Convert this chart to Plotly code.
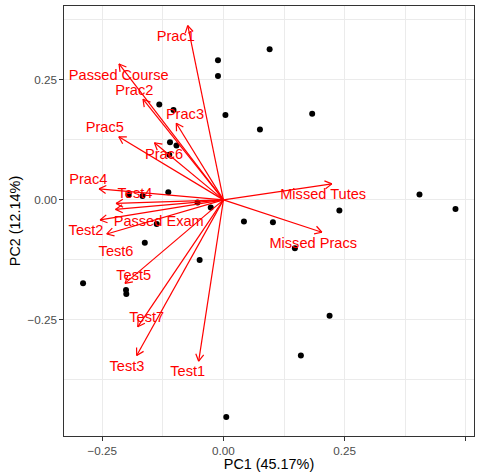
import math
import plotly.graph_objects as go

# ---- data ----
pc1_scores = [-0.0113, -0.0113, 0.0953, 0.0041, 0.0753, 0.1831, 0.4045, 0.4788, 0.2392, 0.0423,
              0.1021, -0.0262, -0.0536, -0.1324, -0.1031, -0.1103, -0.0969, -0.1118, -0.1138, -0.1670,
              -0.1955, -0.1377, -0.1623, -0.0491, -0.2897, -0.2010, -0.2004, 0.2190, 0.1598, 0.0058,
              0.1474]
pc2_scores = [0.2908, 0.2582, 0.3138, 0.1768, 0.1468, 0.1795, 0.0111, -0.0188, -0.0223, -0.0453,
              -0.0466, -0.0161, -0.0052, 0.1990, 0.1875, 0.1200, 0.1134, 0.0939, 0.0161, 0.0079,
              0.0104, -0.0501, -0.0891, -0.1253, -0.1739, -0.1879, -0.1962, -0.2415, -0.3242, -0.4524,
              -0.1008]

variables = ["Prac1", "Passed Course", "Prac2", "Prac3", "Prac5", "Prac6", "Prac4", "Test4",
             "Passed Exam", "Test2", "Test6", "Test5", "Test7", "Test3", "Test1",
             "Missed Tutes", "Missed Pracs"]
load_pc1 = [-0.0736, -0.2155, -0.1660, -0.0973, -0.2159, -0.1423, -0.2567, -0.2216,
            -0.2227, -0.2546, -0.2408, -0.2031, -0.1769, -0.1790, -0.0511,
            0.2237, 0.2031]
load_pc2 = [0.3633, 0.2833, 0.2098, 0.1597, 0.1315, 0.1190, 0.0230, -0.0073,
            -0.0198, -0.0418, -0.0710, -0.1739, -0.2645, -0.3242, -0.3361,
            0.0334, -0.0674]
label_pc1 = [-0.0984, -0.2161, -0.1839, -0.0794, -0.2449, -0.1227, -0.2788, -0.1825,
             -0.1336, -0.2835, -0.2216, -0.1852, -0.1584, -0.1990, -0.0736,
             0.2058, 0.1852]
label_pc2 = [0.3395, 0.2565, 0.2252, 0.1765, 0.1494, 0.0930, 0.0408, 0.0110,
             -0.0462, -0.0656, -0.1088, -0.1590, -0.2479, -0.3489, -0.3600,
             0.0089, -0.0921]

x_title = "PC1 (45.17%)"
y_title = "PC2 (12.14%)"
x_ticks = [-0.25, 0.0, 0.25, 0.5]
y_ticks = [-0.25, 0.0, 0.25]

# ---- layout geometry ----
W, H = 477, 472
ML, MR, MT, MB = 64, 3, 6, 36
x_range = [-0.329, 0.517]
y_range = [-0.492, 0.404]
sx = (W - ML - MR) / (x_range[1] - x_range[0])
sy = (H - MT - MB) / (y_range[1] - y_range[0])

# arrows: shafts + open heads (30 deg, 8 px)
ax_x, ax_y = [], []
head_len, head_ang = 8.0, math.radians(30)
for x1, y1 in zip(load_pc1, load_pc2):
    ax_x += [0, x1, None]
    ax_y += [0, y1, None]
    dxp, dyp = x1 * sx, y1 * sy
    ang = math.atan2(dyp, dxp)
    for s in (1, -1):
        a = ang + math.pi + s * head_ang
        bx = x1 + head_len * math.cos(a) / sx
        by = y1 + head_len * math.sin(a) / sy
        ax_x += [bx, x1, None]
        ax_y += [by, y1, None]

FONT = "Liberation Sans, Arial, sans-serif"

fig = go.Figure()
fig.add_trace(go.Scatter(x=pc1_scores, y=pc2_scores, mode="markers",
                         marker=dict(color="black", size=6), hoverinfo="skip"))
fig.add_trace(go.Scatter(x=ax_x, y=ax_y, mode="lines",
                         line=dict(color="#FF0000", width=1.2), hoverinfo="skip"))
fig.add_trace(go.Scatter(x=label_pc1, y=label_pc2, mode="text", text=variables,
                         textposition="middle center",
                         textfont=dict(color="#FF0000", size=14.6, family=FONT),
                         hoverinfo="skip"))

axis_common = dict(
    showline=True, mirror=True, linecolor="#333333", linewidth=1.1,
    ticks="outside", ticklen=3.5, tickcolor="#333333", tickwidth=1.1,
    tickfont=dict(color="#4D4D4D", size=11.7, family=FONT),
    showgrid=True, gridcolor="#EBEBEB", gridwidth=1.1, zeroline=False,
    tickformat=".2f", automargin=False,
)

fig.update_layout(
    width=W, height=H,
    margin=dict(l=ML, r=MR, t=MT, b=MB),
    paper_bgcolor="white", plot_bgcolor="white",
    showlegend=False,
    font=dict(family=FONT),
    xaxis=dict(range=x_range, tickvals=x_ticks,
               minor=dict(dtick=0.125, tick0=0, showgrid=True, gridcolor="#EBEBEB", gridwidth=0.55, ticks=""),
               title=dict(text=x_title, font=dict(size=14.4, color="black"), standoff=4),
               **axis_common),
    yaxis=dict(range=y_range, tickvals=y_ticks,
               minor=dict(dtick=0.125, tick0=0, showgrid=True, gridcolor="#EBEBEB", gridwidth=0.55, ticks=""),
               title=dict(text=y_title, font=dict(size=14.4, color="black"), standoff=3),
               **axis_common),
)

fig.write_html("out.html",
               config={"displayModeBar": False},
               post_script="document.body.style.margin='0';document.body.style.overflow='hidden';")
